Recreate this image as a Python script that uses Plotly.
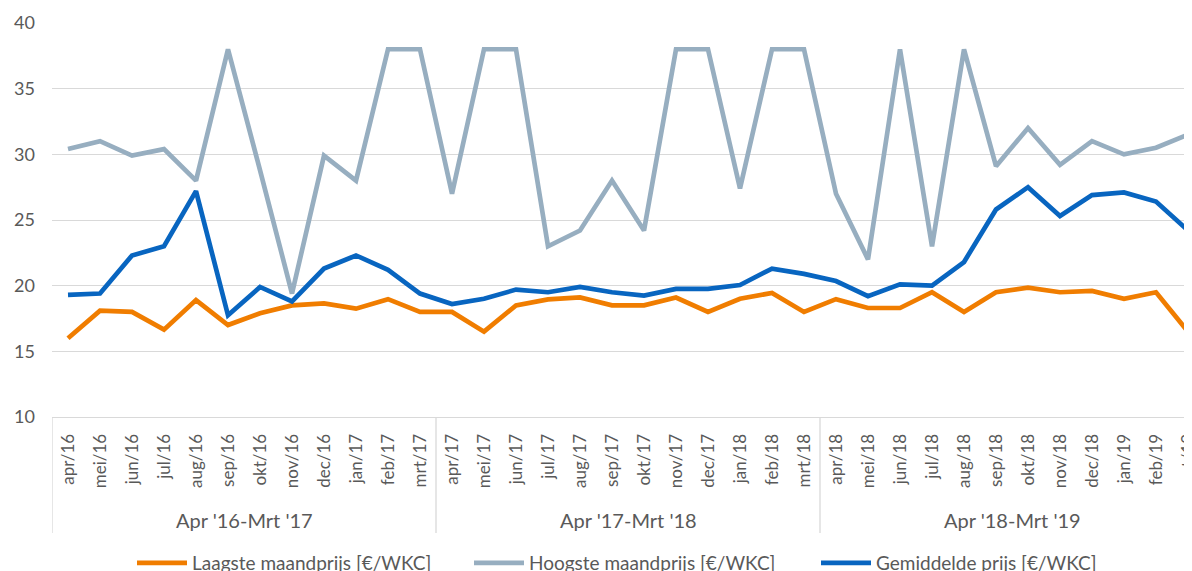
import plotly.graph_objects as go

months = ["apr/16", "mei/16", "jun/16", "jul/16", "aug/16", "sep/16", "okt/16", "nov/16", "dec/16", "jan/17", "feb/17", "mrt/17",
          "apr/17", "mei/17", "jun/17", "jul/17", "aug/17", "sep/17", "okt/17", "nov/17", "dec/17", "jan/18", "feb/18", "mrt/18",
          "apr/18", "mei/18", "jun/18", "jul/18", "aug/18", "sep/18", "okt/18", "nov/18", "dec/18", "jan/19", "feb/19", "mrt/19"]
groups = ["Apr '16-Mrt '17", "Apr '17-Mrt '18", "Apr '18-Mrt '19"]
group_size = 12

laagste = [16.0, 18.1, 18.0, 16.65, 18.9, 17.0, 17.9, 18.5, 18.65, 18.25, 18.97, 18.0,
           18.0, 16.5, 18.5, 18.95, 19.1, 18.5, 18.5, 19.1, 18.0, 19.0, 19.45, 18.0,
           18.97, 18.3, 18.3, 19.5, 18.0, 19.5, 19.85, 19.5, 19.6, 19.0, 19.5, 16.5]
hoogste = [30.4, 31.0, 29.9, 30.4, 28.0, 38.0, 28.8, 19.4, 29.9, 28.0, 38.0, 38.0,
           27.0, 38.0, 38.0, 23.0, 24.2, 28.0, 24.2, 38.0, 38.0, 27.4, 38.0, 38.0,
           27.0, 22.0, 38.0, 23.0, 38.0, 29.1, 32.0, 29.2, 31.0, 30.0, 30.5, 31.5]
gemiddelde = [19.3, 19.4, 22.3, 23.0, 27.2, 17.75, 19.9, 18.8, 21.3, 22.3, 21.2, 19.4,
              18.6, 19.0, 19.7, 19.5, 19.9, 19.5, 19.25, 19.75, 19.75, 20.05, 21.3, 20.9,
              20.35, 19.2, 20.1, 20.0, 21.8, 25.8, 27.5, 25.3, 26.9, 27.1, 26.4, 24.2]

series = [
    ("Laagste maandprijs [€/WKC]", laagste, "#F07D00", 272),
    ("Hoogste maandprijs [€/WKC]", hoogste, "#97AEC0", 282),
    ("Gemiddelde prijs [€/WKC]", gemiddelde, "#0865C0", 272),
]

FONT = "Lato"
TXT = "#595959"
GRID = "#D9D9D9"

fig = go.Figure()
for name, vals, col, lw in series:
    fig.add_trace(go.Scatter(x=months, y=vals, name=name, mode="lines",
                             line=dict(color=col, width=4.7), hoverinfo="skip",
                             legendwidth=lw))

# page body has an 8px margin; figure laid out so the visible window matches
OFF = 8
W, H = 1192 - OFF, 571 - OFF
ml, mt = 52 - OFF, 23 - OFF
plot_bottom = 417 - OFF
mb = H - plot_bottom
ph = plot_bottom - mt

def py(screen_y):
    return -((screen_y - OFF) - plot_bottom) / ph

def px(screen_x):
    return ((screen_x - OFF) - ml) / (W - ml)

fig.update_layout(
    width=W, height=H,
    margin=dict(l=ml, r=0, t=mt, b=mb, autoexpand=False, pad=0),
    plot_bgcolor="white", paper_bgcolor="white",
    font=dict(family=FONT, color=TXT, size=17),
    xaxis=dict(type="category", range=[-0.5, 35.125], showgrid=False,
               showline=True, linecolor=GRID, linewidth=1,
               tickangle=-90, ticks="", ticklabelstandoff=9,
               tickfont=dict(family=FONT, size=17, color=TXT)),
    yaxis=dict(range=[10, 40], dtick=5, tick0=10, showgrid=True, gridcolor=GRID, gridwidth=1,
               zeroline=False, showline=False, ticks="", ticklabelstandoff=16,
               tickfont=dict(family=FONT, size=18, color=TXT)),
    legend=dict(orientation="h", x=px(132), xanchor="left",
                y=py(563), yanchor="middle", font=dict(family=FONT, size=19, color=TXT),
                itemwidth=50, entrywidthmode="pixels",
                bgcolor="rgba(0,0,0,0)"),
    showlegend=True,
)

# group separators and labels
for gi, g in enumerate(groups):
    start = gi * group_size - 0.5
    fig.add_shape(type="line", xref="x", yref="paper", x0=start, x1=start,
                  y0=0, y1=py(533), line=dict(color=GRID, width=1.3))
    fig.add_annotation(x=start + group_size / 2, xref="x", y=py(520), yref="paper",
                       xanchor="center", yanchor="middle",
                       text=g, showarrow=False, font=dict(family=FONT, size=20, color=TXT))
end = len(groups) * group_size - 0.5
fig.add_shape(type="line", xref="x", yref="paper", x0=end, x1=end,
              y0=0, y1=py(533), line=dict(color=GRID, width=1.3))

fig.write_html("out.html")
